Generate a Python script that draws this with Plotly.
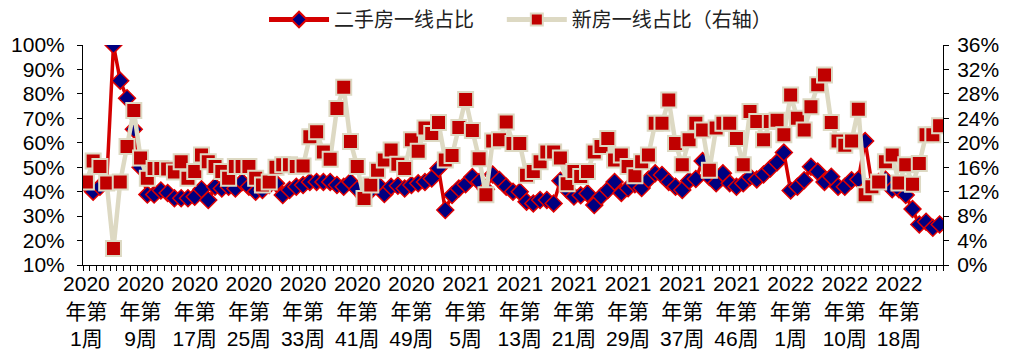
import plotly.graph_objects as go

# Tick labels shown every 8 weeks
tick_labels = ["2020<br>年第<br>1周", "2020<br>年第<br>9周", "2020<br>年第<br>17周", "2020<br>年第<br>25周",
               "2020<br>年第<br>33周", "2020<br>年第<br>41周", "2020<br>年第<br>49周", "2021<br>年第<br>5周",
               "2021<br>年第<br>13周", "2021<br>年第<br>21周", "2021<br>年第<br>29周", "2021<br>年第<br>37周",
               "2021<br>年第<br>46周", "2022<br>年第<br>1周", "2022<br>年第<br>10周", "2022<br>年第<br>18周"]

# 二手房一线占比 (left axis, %)
second_hand = [43, 40, 42, 44, 100, 85.4, 78.2, 65.5, 50, 38.8,
               38.8, 40.5, 39.5, 37.3, 37.3, 37.3, 37.9, 41, 36.6, 42,
               41.3, 42, 41.3, 44, 42, 40, 40.7, 42.7, 43.4, 38.6,
               40.7, 42, 42.7, 44, 44, 44, 44, 42.7, 42, 44,
               41, 38, 40.5, 43, 39, 42, 42.4, 41.3, 42.7, 43.4,
               44, 45.4, 49.5, 32.5, 38.6, 41.3, 43, 46, 44, 41,
               47, 44.8, 42, 40, 40, 35.9, 35.2, 36.6, 36.6, 35.2,
               44.5, 40.7, 38, 38.5, 39.3, 34.5, 38, 40.7, 44, 39.5,
               41.4, 43, 41.5, 45, 47.5, 46.8, 44, 42, 40.7, 44.5,
               45.2, 52.5, 46, 43.4, 47.5, 43.4, 42, 43.4, 46, 45,
               47, 49.5, 52, 56, 40.5, 42, 44.7, 50.2, 48.2, 44,
               46.1, 42, 42, 44.7, 45, 60.7, 43, 44, 45, 41,
               41, 38.6, 32.9, 26.6, 27.7, 25.2, 26.6]

# 新房一线占比（右轴） (right axis, %)
new_house = [13.6, 17.0, 16.1, 13.4, 2.7, 13.6, 19.4, 25.3, 17.5, 14.2,
             15.8, 15.8, 15.7, 15.2, 16.9, 14.2, 15.3, 18.0, 16.9, 16.1,
             15.3, 14.2, 16.1, 16.1, 16.1, 14.2, 13.1, 13.6, 16.0, 16.4,
             16.4, 16.1, 16.2, 21.0, 21.8, 18.5, 17.3, 25.6, 29.1, 20.2,
             16.1, 10.9, 13.1, 15.5, 17.2, 18.8, 16.5, 15.8, 20.5, 18.6,
             22.4, 21.5, 23.3, 17.2, 17.9, 22.5, 27.1, 22.0, 17.4, 11.5,
             20.3, 20.5, 23.4, 19.9, 19.9, 14.7, 15.3, 16.9, 18.5, 18.5,
             17.5, 13.3, 15.3, 14.5, 15.3, 18.5, 19.4, 20.7, 17.2, 18.0,
             16.1, 14.6, 16.9, 18.0, 23.2, 23.2, 27.0, 19.9, 16.4, 20.5,
             23.2, 22.1, 15.5, 22.4, 23.2, 23.2, 20.7, 16.4, 25.1, 23.5,
             20.5, 23.5, 23.7, 21.3, 27.8, 24.0, 22.1, 25.9, 29.5, 31.1,
             23.3, 20.3, 19.6, 20.3, 25.5, 11.5, 12.8, 13.6, 16.9, 18.0,
             13.4, 16.4, 13.2, 16.6, 21.3, 21.3, 22.8]

n = len(second_hand)
x = list(range(n))
tick_vals = list(range(0, 8 * len(tick_labels), 8))

font_main = "Arial, Liberation Sans, Noto Sans CJK SC, sans-serif"

fig = go.Figure()
fig.add_trace(go.Scatter(
    x=x, y=second_hand, name="二手房一线占比", mode="lines+markers",
    line=dict(color="#D40000", width=3.5),
    marker=dict(symbol="diamond", size=13, color="#000080", line=dict(color="#E00000", width=1.5)),
    yaxis="y", legend="legend"))
fig.add_trace(go.Scatter(
    x=x, y=new_house, name="新房一线占比（右轴）", mode="lines+markers",
    line=dict(color="#DDD9C3", width=4.5),
    marker=dict(symbol="square", size=15, color="#C00000", line=dict(color="#DDD9C3", width=2)),
    yaxis="y2", legend="legend2"))

legend_common = dict(orientation="h", xanchor="left", yref="container", y=1.0, yanchor="top",
                     font=dict(family="Noto Sans CJK SC, sans-serif", size=20, color="#222"),
                     itemwidth=60, itemsizing="constant", bgcolor="rgba(0,0,0,0)")

fig.update_layout(
    width=1024, height=360,
    margin=dict(l=83, r=81, t=45, b=95, autoexpand=False),
    paper_bgcolor="white", plot_bgcolor="white",
    font=dict(family=font_main, size=21, color="black"),
    showlegend=True,
    legend=dict(x=0.2105, **legend_common),
    legend2=dict(x=0.487, **legend_common),
    xaxis=dict(range=[-0.5, n - 0.5], tickmode="array", tickvals=tick_vals, ticktext=tick_labels,
               showline=True, linecolor="black", linewidth=1, ticks="", showgrid=False, zeroline=False,
               tickfont=dict(family=font_main, size=21),
               minor=dict(tickmode="linear", tick0=-0.5, dtick=1, ticks="outside", ticklen=5,
                          tickcolor="black", tickwidth=1, showgrid=False)),
    yaxis=dict(range=[10, 100], dtick=10, tick0=10, ticksuffix="%", showline=True, linecolor="black",
               linewidth=1, ticks="outside", ticklen=5, tickcolor="black", showgrid=False, zeroline=False,
               ticklabelstandoff=8, tickfont=dict(family=font_main, size=21)),
    yaxis2=dict(range=[0, 36], dtick=4, tick0=0, ticksuffix="%", overlaying="y", side="right",
                showline=True, linecolor="black", linewidth=1, ticks="outside", ticklen=5,
                tickcolor="black", showgrid=False, zeroline=False,
                ticklabelstandoff=4, tickfont=dict(family=font_main, size=21)),
)

fig.write_html("out.html")
